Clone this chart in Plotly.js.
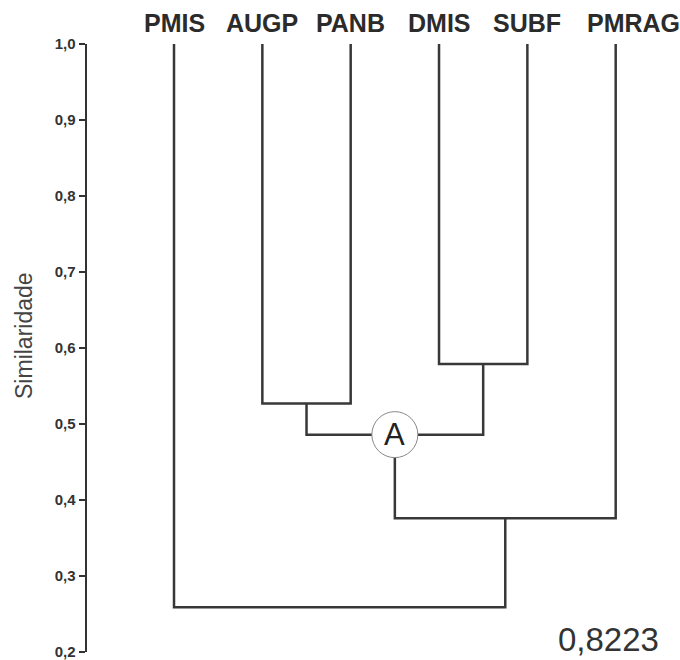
<!DOCTYPE html>
<html>
<head>
<meta charset="utf-8">
<script src="https://cdn.plot.ly/plotly-3.0.1.min.js"></script>
<style>html,body{margin:0;padding:0;background:#fff;}#chart{width:680px;height:660px;}</style>
</head>
<body>
<div id="chart"></div>
<script>
// Leaves (order along the x axis)
const leafLabels = ['PMIS', 'AUGP', 'PANB', 'DMIS', 'SUBF', 'PMRAG'];
const leafSimilarity = 1.0;
// Merges: node ids 0-5 are leaves, merges create ids 6, 7, 8, ...
const mergeLeft   = [1, 3, 6, 8, 0];
const mergeRight  = [2, 4, 7, 5, 9];
const mergeHeight = [0.527, 0.579, 0.486, 0.376, 0.259];
// Y-axis ticks
const yTickVals = [0.2, 0.3, 0.4, 0.5, 0.6, 0.7, 0.8, 0.9, 1.0];
const yTickText = ['0,2', '0,3', '0,4', '0,5', '0,6', '0,7', '0,8', '0,9', '1,0'];
const nodeLabel = 'A';
const nodeLabelMerge = 2; // index in merges list
const cophenetic = '0,8223';
const yTitle = 'Similaridade';

// Build node positions
const nodeX = leafLabels.map((_, i) => i);
const nodeY = leafLabels.map(() => leafSimilarity);
const xs = [], ys = [];
for (let k = 0; k < mergeLeft.length; k++) {
  const a = mergeLeft[k], b = mergeRight[k], h = mergeHeight[k];
  xs.push(nodeX[a], nodeX[a], nodeX[b], nodeX[b], null);
  ys.push(nodeY[a], h, h, nodeY[b], null);
  nodeX.push((nodeX[a] + nodeX[b]) / 2);
  nodeY.push(h);
}

const lineColor = '#383838';
const trace = {
  x: xs, y: ys, type: 'scatter', mode: 'lines',
  line: {color: lineColor, width: 2.5}, hoverinfo: 'skip', showlegend: false
};

const annotations = leafLabels.map((lab, i) => ({
  x: i, xref: 'x', y: 1.034, yref: 'paper', text: lab, showarrow: false,
  xanchor: 'center', yanchor: 'middle', xshift: lab === 'PMRAG' ? 18 : 0,
  font: {family: 'Liberation Sans, Arial, sans-serif', size: 25, color: '#2b2b2b', weight: 'bold'}
}));

const aNode = leafLabels.length + nodeLabelMerge;
annotations.push({
  x: nodeX[aNode], y: nodeY[aNode], xref: 'x', yref: 'y', text: nodeLabel, showarrow: false,
  xanchor: 'center', yanchor: 'middle',
  font: {family: 'Liberation Sans, Arial, sans-serif', size: 31, color: '#222'}
});
annotations.push({
  x: 0.88, y: 0.02, xref: 'paper', yref: 'paper', text: cophenetic, showarrow: false,
  xanchor: 'center', yanchor: 'middle',
  font: {family: 'Liberation Sans, Arial, sans-serif', size: 33, color: '#333'}
});
annotations.push({
  x: -0.106, y: 0.52, xref: 'paper', yref: 'paper', text: yTitle, showarrow: false,
  textangle: -90, xanchor: 'center', yanchor: 'middle',
  font: {family: 'Liberation Sans, Arial, sans-serif', size: 23, color: '#444'}
});

const layout = {
  width: 680, height: 660,
  margin: {l: 87, r: 0, t: 44, b: 8},
  paper_bgcolor: '#fff', plot_bgcolor: '#fff',
  xaxis: {range: [-0.985, 5.728], visible: false, fixedrange: true},
  yaxis: {
    range: [0.2, 1.0], tickvals: yTickVals, ticktext: yTickText,
    ticks: 'outside', ticklen: 6, tickwidth: 2, tickcolor: '#333',
    showline: true, linewidth: 2.5, linecolor: '#333',
    showgrid: false, zeroline: false, ticklabeloverflow: 'allow',
    tickfont: {family: 'Liberation Sans, Arial, sans-serif', size: 15, color: '#333', weight: 'bold'}
  },
  shapes: [{
    type: 'circle', xref: 'x', yref: 'y', layer: 'above',
    xsizemode: 'pixel', ysizemode: 'pixel',
    xanchor: nodeX[aNode], yanchor: nodeY[aNode],
    x0: -23, x1: 23, y0: -23, y1: 23,
    fillcolor: '#fff', line: {color: '#888', width: 1}
  }],
  annotations: annotations
};

Plotly.newPlot('chart', [trace], layout, {displayModeBar: false, staticPlot: true});
</script>
</body>
</html>
